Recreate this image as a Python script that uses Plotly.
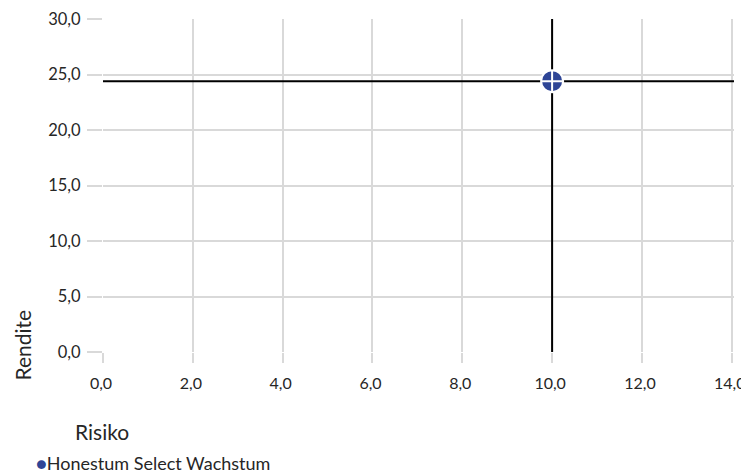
import plotly.graph_objects as go

# Data
series_name = "Honestum Select Wachstum"
risk = [10.0]       # Risiko (x)
ret = [24.4]        # Rendite (y)
x_range = [0, 14.05]
y_range = [0, 30]
x_ticks = [0, 2, 4, 6, 8, 10, 12, 14]
y_ticks = [0, 5, 10, 15, 20, 25, 30]

navy = "#2E4596"
grid = "#D9D9D9"
txt = "#262626"
font_family = "Lato, 'Open Sans', sans-serif"

fig = go.Figure()
fig.add_trace(go.Scatter(
    x=risk, y=ret, mode="markers", name=series_name,
    marker=dict(symbol="circle-cross", size=22, color=navy,
                line=dict(color="white", width=2)),
    showlegend=False, cliponaxis=False,
))

# crosshair lines through the point
for xv, yv in zip(risk, ret):
    fig.add_shape(type="line", xref="x", yref="y", x0=xv, x1=xv,
                  y0=y_range[0], y1=y_range[1],
                  line=dict(color="black", width=2), layer="between")
    fig.add_shape(type="line", xref="x", yref="y", x0=x_range[0], x1=x_range[1],
                  y0=yv, y1=yv,
                  line=dict(color="black", width=2), layer="between")

# page body has an 8px margin, so the figure is sized to fit the window
fig.update_layout(
    width=741, height=466,
    margin=dict(l=95, r=15, t=11, b=122, autoexpand=False),
    paper_bgcolor="white", plot_bgcolor="white",
    separators=", ",
    font=dict(family=font_family, size=16.5, color=txt),
    xaxis=dict(range=x_range, tickvals=x_ticks, tickformat=".1f",
               tickfont=dict(size=16),
               showgrid=True, gridcolor=grid, gridwidth=2,
               zeroline=False, showline=False, automargin=False,
               ticks="outside", ticklen=10, tickwidth=2, tickcolor=grid,
               ticklabelstandoff=7, ticklabelshift=-2),
    yaxis=dict(range=y_range, tickvals=y_ticks, tickformat=".1f",
               showgrid=True, gridcolor=grid, gridwidth=2,
               zeroline=False, showline=False, automargin=False,
               ticks="outside", ticklen=15, tickwidth=2, tickcolor=grid,
               ticklabelstandoff=3),
    annotations=[
        dict(text="Risiko", xref="paper", yref="paper", x=-0.047, y=-0.238,
             xanchor="left", yanchor="middle", showarrow=False,
             font=dict(size=21, color=txt)),
        dict(text="Rendite", xref="paper", yref="paper", x=-0.127, y=0.022,
             xanchor="center", yanchor="middle", textangle=-90, showarrow=False,
             font=dict(size=21, color=txt)),
        dict(text=f"<span style='color:{navy}'>●</span>{series_name}",
             xref="paper", yref="paper", x=-0.11, y=-0.334,
             xanchor="left", yanchor="middle", showarrow=False,
             font=dict(size=18, color=txt)),
    ],
)

fig.write_html("out.html")
